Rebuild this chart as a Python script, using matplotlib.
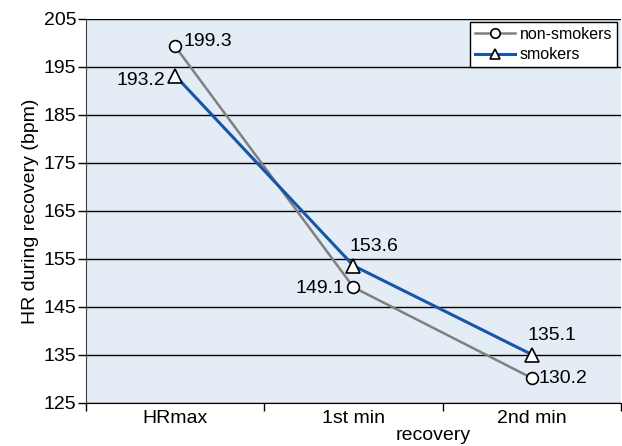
import matplotlib
matplotlib.use("Agg")
import matplotlib.pyplot as plt

categories = ["HRmax", "1st min", "2nd min"]
non_smokers = [199.3, 149.1, 130.2]
smokers = [193.2, 153.6, 135.1]
yticks = [125, 135, 145, 155, 165, 175, 185, 195, 205]

plt.rcParams['font.family'] = ['Liberation Sans', 'DejaVu Sans']
FS = 14

fig = plt.figure(figsize=(6.22, 4.46), dpi=100)
ax = fig.add_axes([86/622, 1-403/446, (621-86)/622, (403-19)/446])
ax.set_facecolor('#E4ECF5')

x = list(range(len(categories)))
ax.plot(x, non_smokers, color='#808080', lw=1.8, marker='o', ms=8.5,
        mfc='white', mec='black', mew=1.2, label='non-smokers', zorder=3)
ax.plot(x, smokers, color='#1556A8', lw=2.2, marker='^', ms=9.5,
        mfc='white', mec='black', mew=1.2, label='smokers', zorder=4)

ax.set_ylim(125, 205)
ax.set_yticks(yticks)
ax.set_yticklabels([str(v) for v in yticks], fontsize=FS)
ax.yaxis.grid(True, color='black', lw=1.0)
ax.set_axisbelow(True)

ax.set_xlim(-0.5, 2.5)
ax.set_xticks([-0.5, 0.5, 1.5, 2.5])
ax.set_xticklabels([])
ax.set_xticks(x, minor=True)
ax.set_xticklabels(categories, minor=True, fontsize=FS)
ax.tick_params(axis='x', which='minor', length=0, pad=5)
ax.tick_params(axis='x', which='major', length=6, width=1, direction='out')
ax.tick_params(axis='y', length=6, width=1, direction='out', pad=1)

for s in ['top', 'right']:
    ax.spines[s].set_visible(False)
ax.spines['left'].set_color('#404040')
ax.spines['bottom'].set_color('black')

ax.set_ylabel('HR during recovery (bpm)', fontsize=FS, labelpad=3)
fig.text(433/622, 1-436/446, 'recovery', fontsize=FS, ha='center', va='center')

def lab(xi, yi, txt, dx, dy, ha):
    ax.annotate(txt, (xi, yi), xytext=(dx*0.72, dy*0.72), textcoords='offset points',
                ha=ha, va='center', fontsize=FS, zorder=5)

lab(0, non_smokers[0], '199.3', 8, 5, 'left')
lab(0, smokers[0], '193.2', -10, -5, 'right')
lab(1, smokers[1], '153.6', -4, 19, 'left')
lab(1, non_smokers[1], '149.1', -9, -1, 'right')
lab(2, smokers[2], '135.1', -4, 19, 'left')
lab(2, non_smokers[2], '130.2', 7, 0, 'left')

leg = ax.legend(loc='upper right', bbox_to_anchor=(1.0 - 4/535, 1.0 - 3/384),
                fontsize=11.5, frameon=True, fancybox=False, framealpha=1,
                edgecolor='black', borderpad=0.3, handlelength=2.5,
                handletextpad=0.3, labelspacing=0.35, borderaxespad=0,
                markerscale=0.8)
leg.get_frame().set_linewidth(1.0)

fig.savefig('out.png', dpi=100)
